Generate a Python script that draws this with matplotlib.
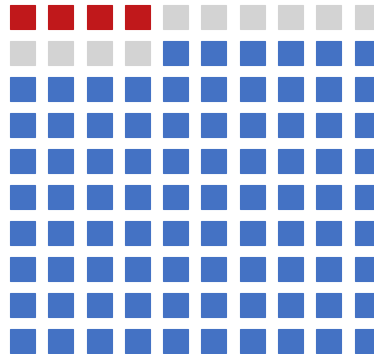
import matplotlib.pyplot as plt
from matplotlib.patches import Rectangle

categories = ["Red", "Grey", "Blue"]
counts = [4, 10, 86]
colors = ["#C0181B", "#D3D3D3", "#4472C4"]
n_rows, n_cols = 10, 10

fig = plt.figure(figsize=(3.74, 3.54), dpi=100)
ax = fig.add_axes([0, 0, 1, 1])

cells = []
for cat, n in zip(range(len(categories)), counts):
    cells += [cat] * n

w, h = 0.653, 0.667
for k, cat in enumerate(cells):
    r, c = divmod(k, n_cols)
    ax.add_patch(Rectangle((c + 0.5 - w / 2, r + 0.5 - h / 2), w, h,
                           facecolor=colors[cat], edgecolor=colors[cat],
                           linewidth=0.8, alpha=1))

ax.set_xlim(-0.087, 9.678)
ax.set_ylim(9.861, 0.028)
ax.axis("off")
fig.savefig("out.png", dpi=100)
